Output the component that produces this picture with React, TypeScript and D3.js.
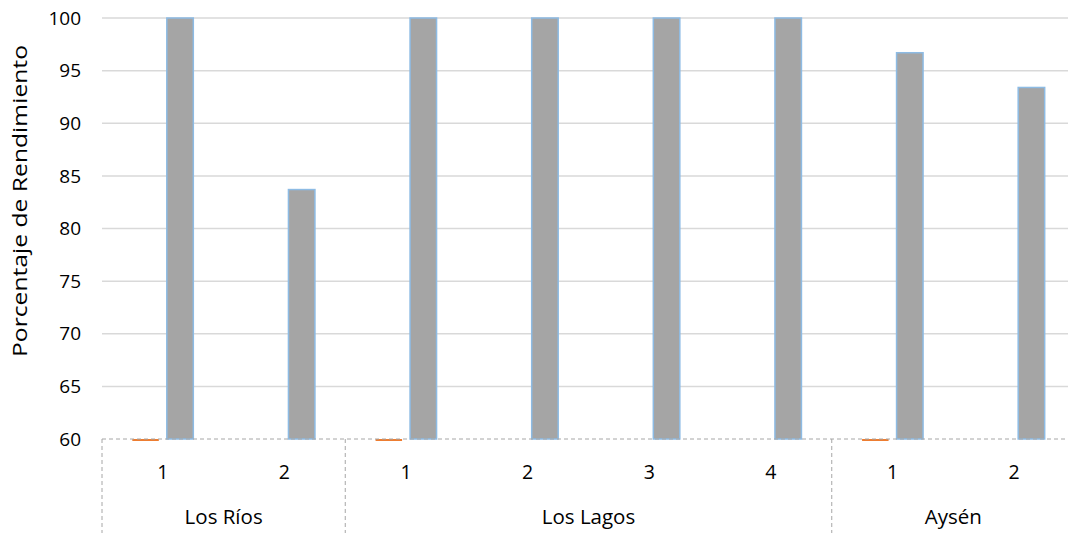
import React from "react";
import * as d3 from "d3";

const regions = ["Los Ríos", "Los Lagos", "Aysén"];
const categoryLabels = ["1", "2", "1", "2", "3", "4", "1", "2"];
const categoryRegion = ["Los Ríos", "Los Ríos", "Los Lagos", "Los Lagos", "Los Lagos", "Los Lagos", "Aysén", "Aysén"];
const seriesOrange: (number | null)[] = [60, null, 60, null, null, null, 60, null];
const seriesGray: number[] = [100, 83.7, 100, 100, 100, 100, 96.7, 93.4];
const yTicks = [60, 65, 70, 75, 80, 85, 90, 95, 100];

const W = 1068;
const H = 533;
const left = 102;
const right = 1075;
const top = 18;
const bottom = 439;
const FONT = "'Open Sans', sans-serif";

export default function App() {
  const ids = categoryLabels.map((_, i) => String(i));
  const x = d3.scaleBand<string>().domain(ids).range([left, right]).padding(0);
  const y = d3.scaleLinear().domain([60, 100]).range([bottom, top]);
  const bw = x.bandwidth();
  const barW = 26.5;
  const gap = 8;

  const boundaries: number[] = [];
  regions.forEach((r) => {
    const idx = categoryRegion.indexOf(r);
    boundaries.push(x(String(idx))!);
  });
  boundaries.push(right);

  return (
    <svg width={W} height={H} style={{ position: "absolute", left: 0, top: 0, background: "#fff" }}>
      {yTicks.filter((t) => t !== 60).map((t) => (
        <line key={t} x1={left} x2={W} y1={y(t)} y2={y(t)} stroke="#d9d9d9" strokeWidth={1.5} />
      ))}
      {seriesGray.map((v, i) => {
        const cx = x(String(i))! + bw / 2;
        return (
          <rect key={"g" + i} x={cx + gap / 2} y={y(v)} width={barW} height={y(60) - y(v)}
            fill="#a5a5a5" stroke="#8dbbe4" strokeWidth={1.5} />
        );
      })}
      {seriesOrange.map((v, i) => {
        if (v == null) return null;
        const cx = x(String(i))! + bw / 2;
        return (
          <line key={"o" + i} x1={cx - gap / 2 - barW} x2={cx - gap / 2} y1={y(v) + 1} y2={y(v) + 1}
            stroke="#ed7d31" strokeWidth={2} />
        );
      })}
      <line x1={left} x2={W} y1={bottom} y2={bottom} stroke="#a6a6a6" strokeWidth={1} strokeDasharray="4,3" />
      {boundaries.map((b, i) => (
        <line key={"s" + i} x1={b} x2={b} y1={bottom} y2={H} stroke="#a6a6a6" strokeWidth={1} strokeDasharray="4,3" />
      ))}
      {yTicks.map((t) => (
        <text key={"t" + t} x={81} y={y(t)} dy="0.35em" textAnchor="end" fontFamily={FONT} fontSize={19} fill="#000">
          {t}
        </text>
      ))}
      {categoryLabels.map((c, i) => (
        <text key={"c" + i} x={x(String(i))! + bw / 2} y={479} textAnchor="middle" fontFamily={FONT} fontSize={19.5} fill="#000">
          {c}
        </text>
      ))}
      {regions.map((r, i) => {
        const cx = Math.min((boundaries[i] + boundaries[i + 1]) / 2, W);
        return (
          <text key={"r" + i} x={cx} y={524} textAnchor="middle" fontFamily={FONT} fontSize={20.5} fill="#000">
            {r}
          </text>
        );
      })}
      <text transform={`translate(27,${201}) rotate(-90)`} textAnchor="middle" fontFamily={FONT} fontSize={20}
        textLength={312} lengthAdjust="spacingAndGlyphs" fill="#000">
        Porcentaje de Rendimiento
      </text>
    </svg>
  );
}
